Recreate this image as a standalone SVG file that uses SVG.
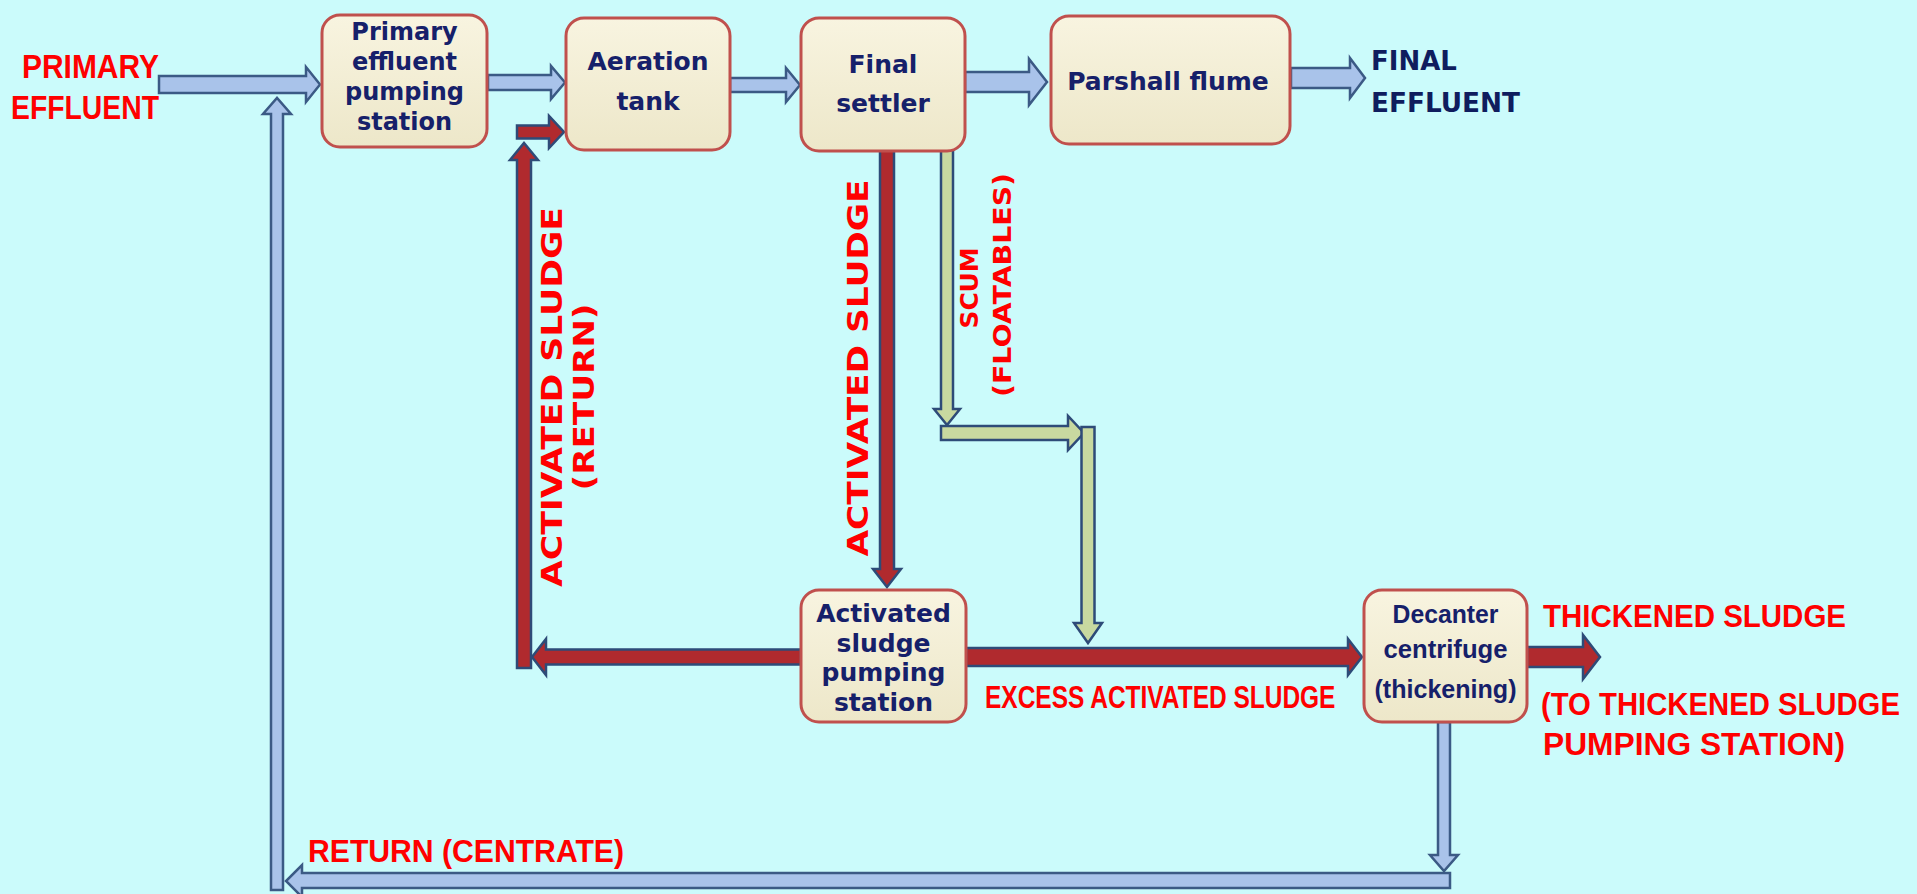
<svg xmlns="http://www.w3.org/2000/svg" width="1917" height="894" viewBox="0 0 1917 894">
<defs>
<linearGradient id="boxg" x1="0" y1="0" x2="0" y2="1"><stop offset="0" stop-color="#f8f4e0"/><stop offset="1" stop-color="#ede7c9"/></linearGradient>
<style>
.box{fill:url(#boxg);stroke:#c0504d;stroke-width:3}
.bt{font-family:"DejaVu Sans",Verdana,sans-serif;font-weight:bold;fill:#16206a;text-anchor:middle}
.bt2{font-family:"Liberation Sans",Arial,sans-serif;font-weight:bold;fill:#16206a;text-anchor:middle}
.red{font-family:"Liberation Sans",Arial,sans-serif;font-weight:bold;fill:#ff0000}
.rv{font-family:"DejaVu Sans",Verdana,sans-serif;font-weight:bold;fill:#ff0000;text-anchor:middle}
.navy{font-family:"DejaVu Sans",Verdana,sans-serif;font-weight:bold;fill:#0f1d5e}
.ab{fill:#a9c3ea;stroke:#3b5a85;stroke-width:2.5;stroke-linejoin:miter}
.ar{fill:#b02a2e;stroke:#2e4b78;stroke-width:2.5;stroke-linejoin:miter}
.ag{fill:#c8d9a0;stroke:#2e4b78;stroke-width:2.5;stroke-linejoin:miter}
</style>
</defs>
<rect x="0" y="0" width="1917" height="894" fill="#cbfbfb"/>

<g id="connectors">
<!-- blue main line arrows -->
<polygon class="ab" points="159,76 306,76 306,67 320,84.5 306,102 306,93 159,93"/>
<polygon class="ab" points="488,75 551,75 551,66 565,82.5 551,99 551,90 488,90"/>
<polygon class="ab" points="730,78 786,78 786,68 800,85 786,102 786,92 730,92"/>
<polygon class="ab" points="965,72 1029,72 1029,59 1047,82 1029,105 1029,92 965,92"/>
<polygon class="ab" points="1291,68 1350,68 1350,58 1365,78 1350,98 1350,88 1291,88"/>
<!-- red activated sludge -->
<polygon class="ar" points="880,150 894,150 894,569 901,569 887,587 873,569 880,569"/>
<polygon class="ar" points="801,649.5 546,649.5 546,639 532,657 546,675 546,664.5 801,664.5"/>
<polygon class="ar" points="517,668 517,160 510,160 524,143 538,160 531,160 531,668"/>
<polygon class="ar" points="517,125.5 549,125.5 549,116 564,132 549,148 549,138.5 517,138.5"/>
<polygon class="ar" points="966,648 1348,648 1348,639 1362,657 1348,675 1348,666 966,666"/>
<polygon class="ar" points="1527,647 1583,647 1583,635 1600,657 1583,679 1583,667 1527,667"/>
<!-- scum -->
<polygon class="ag" points="941,150 953,150 953,409 960,409 947,425 934,409 941,409"/>
<polygon class="ag" points="941,426 1068,426 1068,416 1084,433 1068,450 1068,440 941,440"/>
<polygon class="ag" points="1081.5,427 1094.5,427 1094.5,623 1102,623 1088,643 1074,623 1081.5,623"/>
<!-- centrate return -->
<polygon class="ab" points="1438,722 1450,722 1450,855 1458,855 1444,871 1430,855 1438,855"/>
<polygon class="ab" points="1450,873 302,873 302,865 286,881 302,897 302,888 1450,888"/>
<polygon class="ab" points="271,890 271,114 263,114 277,98 291,114 283,114 283,890"/>
</g>

<g id="n-primary-pumping">
<rect class="box" x="322" y="15" width="165" height="132" rx="18"/>
<text class="bt" font-size="24" x="404.5" y="40">Primary</text>
<text class="bt" font-size="24" x="404.5" y="70">effluent</text>
<text class="bt" font-size="24" x="404.5" y="100">pumping</text>
<text class="bt" font-size="24" x="404.5" y="130">station</text>
</g>
<g id="n-aeration">
<rect class="box" x="566" y="18" width="164" height="132" rx="18"/>
<text class="bt" font-size="25" x="648" y="70">Aeration</text>
<text class="bt" font-size="25" x="648" y="110">tank</text>
</g>
<g id="n-final-settler">
<rect class="box" x="801" y="18" width="164" height="133" rx="18"/>
<text class="bt" font-size="25" x="883" y="73">Final</text>
<text class="bt" font-size="25" x="883" y="112">settler</text>
</g>
<g id="n-parshall">
<rect class="box" x="1051" y="16" width="239" height="128" rx="18"/>
<text class="bt" font-size="25" x="1168" y="90">Parshall flume</text>
</g>
<g id="n-as-pumping">
<rect class="box" x="801" y="590" width="165" height="132" rx="18"/>
<text class="bt" font-size="25" x="883.5" y="622">Activated</text>
<text class="bt" font-size="25" x="883.5" y="652">sludge</text>
<text class="bt" font-size="25" x="883.5" y="681">pumping</text>
<text class="bt" font-size="25" x="883.5" y="711">station</text>
</g>
<g id="n-decanter">
<rect class="box" x="1364" y="590" width="163" height="132" rx="18"/>
<text class="bt2" font-size="26" x="1445.5" y="623" textLength="106" lengthAdjust="spacingAndGlyphs">Decanter</text>
<text class="bt2" font-size="26" x="1445.5" y="658" textLength="124" lengthAdjust="spacingAndGlyphs">centrifuge</text>
<text class="bt2" font-size="26" x="1445.5" y="698" textLength="142" lengthAdjust="spacingAndGlyphs">(thickening)</text>
</g>

<g id="labels">
<text class="red" font-size="34" x="22" y="78" textLength="137" lengthAdjust="spacingAndGlyphs">PRIMARY</text>
<text class="red" font-size="34" x="11" y="119" textLength="148" lengthAdjust="spacingAndGlyphs">EFFLUENT</text>
<text class="navy" font-size="26" x="1371" y="70">FINAL</text>
<text class="navy" font-size="26" x="1371" y="112" textLength="149" lengthAdjust="spacingAndGlyphs">EFFLUENT</text>
<text class="rv" font-size="28" transform="translate(562,397) rotate(-90)" textLength="380" lengthAdjust="spacingAndGlyphs">ACTIVATED SLUDGE</text>
<text class="rv" font-size="28" transform="translate(594,397) rotate(-90)" textLength="187" lengthAdjust="spacingAndGlyphs">(RETURN)</text>
<text class="rv" font-size="28" transform="translate(868,368) rotate(-90)" textLength="377" lengthAdjust="spacingAndGlyphs">ACTIVATED SLUDGE</text>
<text class="rv" font-size="24" transform="translate(978,288) rotate(-90)" textLength="81" lengthAdjust="spacingAndGlyphs">SCUM</text>
<text class="rv" font-size="24" transform="translate(1011,285) rotate(-90)" textLength="224" lengthAdjust="spacingAndGlyphs">(FLOATABLES)</text>
<text class="red" font-size="31" transform="translate(985,708) scale(0.79,1)" x="0" y="0">EXCESS ACTIVATED SLUDGE</text>
<text class="red" font-size="31" x="1543" y="627" textLength="303" lengthAdjust="spacingAndGlyphs">THICKENED SLUDGE</text>
<text class="red" font-size="31" transform="translate(1541,715) scale(0.945,1)" x="0" y="0">(TO THICKENED SLUDGE</text>
<text class="red" font-size="31" x="1543" y="755" textLength="302" lengthAdjust="spacingAndGlyphs">PUMPING STATION)</text>
<text class="red" font-size="31" x="308" y="862" textLength="316" lengthAdjust="spacingAndGlyphs">RETURN (CENTRATE)</text>
</g>
</svg>
